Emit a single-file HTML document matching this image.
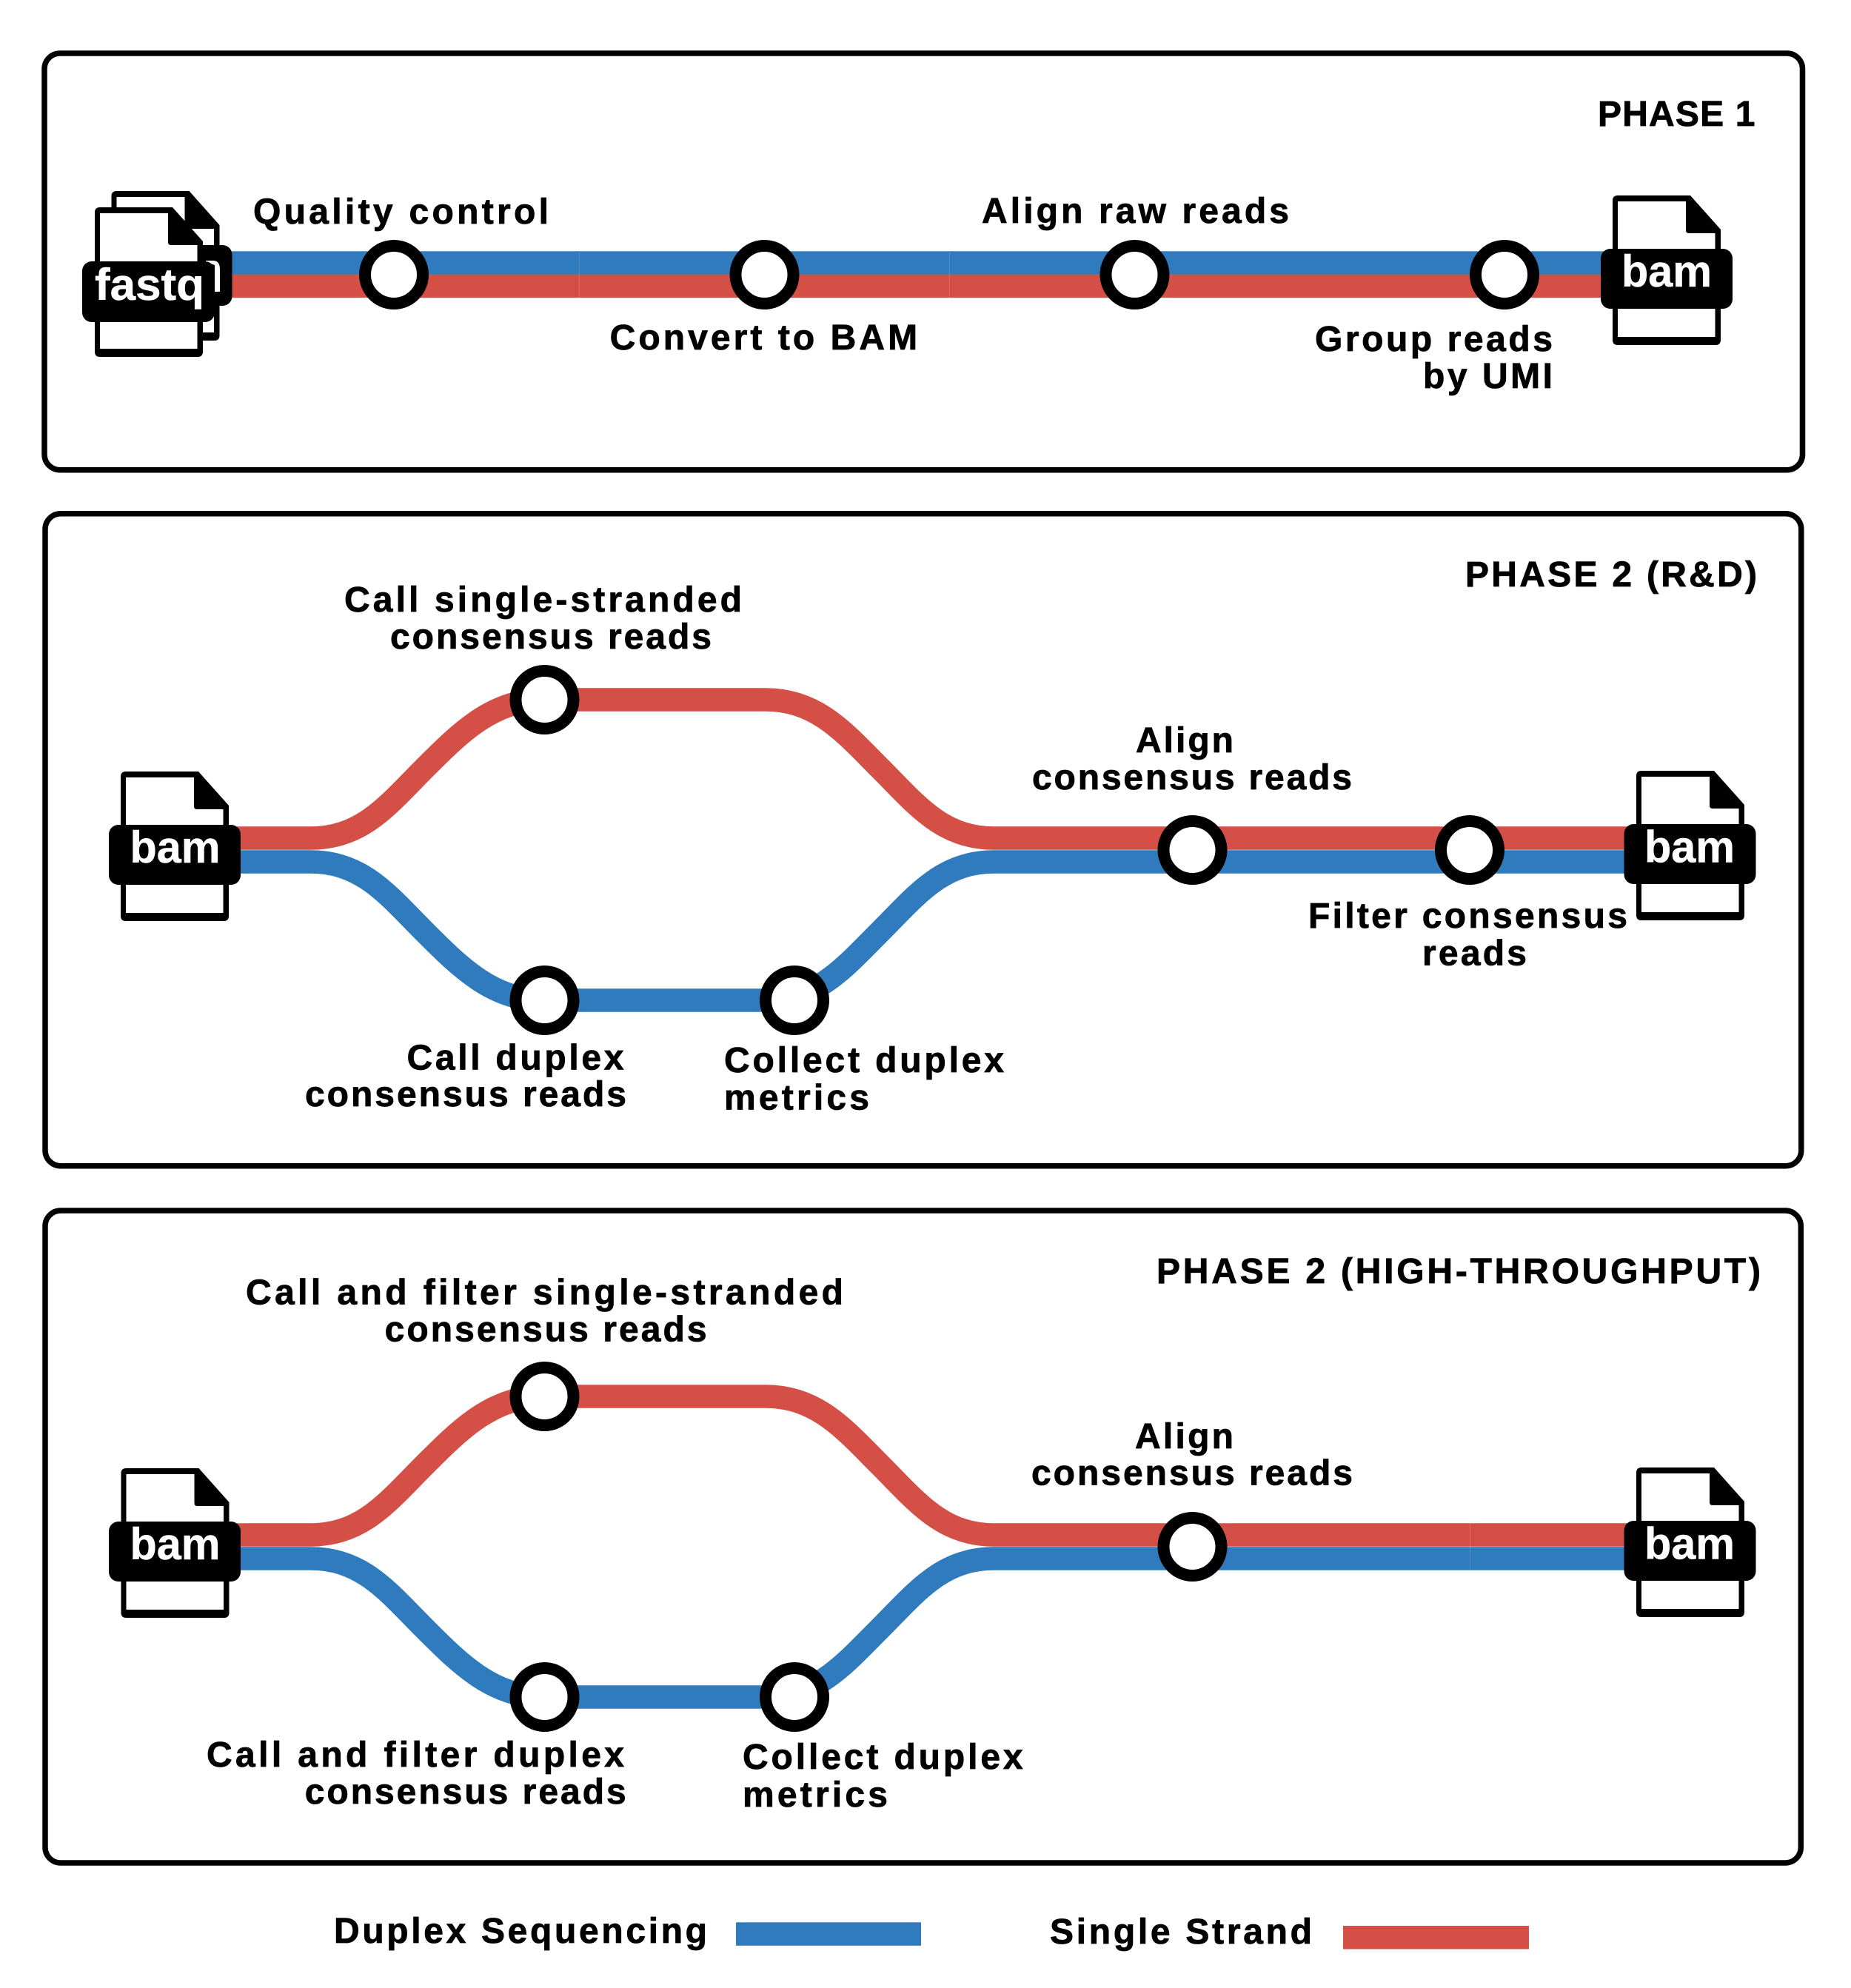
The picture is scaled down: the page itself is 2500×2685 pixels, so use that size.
<!DOCTYPE html>
<html lang="en">
<head>
<meta charset="utf-8">
<title>Duplex sequencing pipeline</title>
<style>
html,body{margin:0;padding:0;background:#fff}
svg{display:block}
text{font-family:"Liberation Sans",sans-serif;font-weight:700;font-size:48px;fill:#000;stroke:#000;stroke-width:.8}
text.w{fill:#fff;stroke:#fff;stroke-width:.5;font-size:60px}
.red{fill:none;stroke:#d44f46;stroke-width:31.5}
.blue{fill:none;stroke:#2f7bbd;stroke-width:31.5}
.box{fill:none;stroke:#000;stroke-width:7.5}
.st{fill:#fff;stroke:#000;stroke-width:16}
</style>
</head>
<body>
<svg xmlns="http://www.w3.org/2000/svg" width="2500" height="2685" viewBox="0 0 2500 2685">
<defs>
<g id="doc">
<path d="M7 0H105L146 46V195Q146 202 139 202H7Q0 202 0 195V7Q0 0 7 0Z" fill="#000"/>
<path d="M7 8H99V47Q99 51 103 51H138.5V191H7Z" fill="#fff"/>
</g>
</defs>
<rect width="2500" height="2685" fill="#fff"/>

<rect class="box" x="60" y="72" width="2374.5" height="562.7" rx="21"/>
<rect class="box" x="61" y="693.7" width="2371.8" height="881" rx="21"/>
<rect class="box" x="61" y="1635" width="2371.3" height="881" rx="21"/>

<!-- PHASE 1 -->
<rect x="300" y="339.3" width="1880" height="31.6" fill="#2f7bbd"/>
<rect x="300" y="370.7" width="1880" height="31.5" fill="#d44f46"/>
<rect x="782" y="339.3" width="1" height="62.9" fill="#fff" opacity=".15"/>
<rect x="1282" y="339.3" width="1" height="62.9" fill="#fff" opacity=".15"/>
<circle class="st" cx="532" cy="371" r="39"/>
<circle class="st" cx="1032.5" cy="371" r="39"/>
<circle class="st" cx="1532.5" cy="371" r="39"/>
<circle class="st" cx="2032" cy="371" r="39"/>

<use href="#doc" x="150.5" y="258"/>
<rect x="135.5" y="331" width="178" height="82" rx="13" fill="#000"/>
<path d="M278 352H288Q297 352 297 364V394H290V358L278 354Z" fill="#fff"/>
<use href="#doc" x="128" y="280"/>
<rect x="111" y="353" width="179" height="82" rx="13" fill="#000"/>
<text class="w" x="128" y="405" textLength="148" lengthAdjust="spacingAndGlyphs">fastq</text>

<use href="#doc" x="2178" y="264"/>
<rect x="2162" y="336" width="178" height="81" rx="13" fill="#000"/>
<text class="w" x="2190" y="387" textLength="122" lengthAdjust="spacingAndGlyphs">bam</text>

<text x="2158" y="170" textLength="212.5" lengthAdjust="spacing">PHASE 1</text>
<text x="342" y="302" textLength="399" lengthAdjust="spacing">Quality control</text>
<text x="823.6" y="472" textLength="415.5" lengthAdjust="spacing">Convert to BAM</text>
<text x="1326" y="301" textLength="415" lengthAdjust="spacing">Align raw reads</text>
<text x="1776" y="474" textLength="321" lengthAdjust="spacing">Group reads</text>
<text x="1922" y="524" textLength="175" lengthAdjust="spacing">by UMI</text>

<!-- PHASE 2 R&D -->
<path class="red" d="M320 1132H420C490 1132 525 1086 573 1038C621 990 665 945 735 945H1034C1104 945 1141 990 1189 1038C1237 1086 1272 1132 1342 1132H2200"/>
<path class="blue" d="M320 1164H420C490 1164 525 1210 573 1258C621 1306 665 1351 735 1351H1034C1104 1351 1141 1306 1189 1258C1237 1210 1272 1164 1342 1164H2200"/>
<circle class="st" cx="735.5" cy="945" r="39"/>
<circle class="st" cx="735.5" cy="1351" r="39"/>
<circle class="st" cx="1073" cy="1351" r="39"/>
<circle class="st" cx="1610.5" cy="1148" r="39"/>
<circle class="st" cx="1985" cy="1148" r="39"/>

<use href="#doc" x="163" y="1042"/>
<rect x="147" y="1114" width="178" height="81" rx="13" fill="#000"/>
<text class="w" x="175.5" y="1165" textLength="122" lengthAdjust="spacingAndGlyphs">bam</text>
<use href="#doc" x="2210" y="1041"/>
<rect x="2193.5" y="1113" width="178" height="81" rx="13" fill="#000"/>
<text class="w" x="2221" y="1164.5" textLength="122" lengthAdjust="spacingAndGlyphs">bam</text>

<text x="1979" y="792" textLength="394" lengthAdjust="spacing">PHASE 2 (R&amp;D)</text>
<text x="465" y="826" textLength="537" lengthAdjust="spacing">Call single-stranded</text>
<text x="527" y="876" textLength="434" lengthAdjust="spacing">consensus reads</text>
<text x="549.5" y="1444.5" textLength="293" lengthAdjust="spacing">Call duplex</text>
<text x="412" y="1494" textLength="434" lengthAdjust="spacing">consensus reads</text>
<text x="978" y="1448" textLength="378" lengthAdjust="spacing">Collect duplex</text>
<text x="978" y="1498.5" textLength="196" lengthAdjust="spacing">metrics</text>
<text x="1534" y="1016" textLength="132" lengthAdjust="spacing">Align</text>
<text x="1394" y="1066" textLength="432" lengthAdjust="spacing">consensus reads</text>
<text x="1767" y="1253" textLength="431" lengthAdjust="spacing">Filter consensus</text>
<text x="1921" y="1303.5" textLength="141" lengthAdjust="spacing">reads</text>

<!-- PHASE 2 HIGH-THROUGHPUT -->
<g transform="translate(0 941)">
<path class="red" d="M320 1132H420C490 1132 525 1086 573 1038C621 990 665 945 735 945H1034C1104 945 1141 990 1189 1038C1237 1086 1272 1132 1342 1132H2200"/>
<path class="blue" d="M320 1164H420C490 1164 525 1210 573 1258C621 1306 665 1351 735 1351H1034C1104 1351 1141 1306 1189 1258C1237 1210 1272 1164 1342 1164H2200"/>
<rect x="1985" y="1116" width="1" height="63" fill="#fff" opacity=".15"/>
<circle class="st" cx="735.5" cy="945" r="39"/>
<circle class="st" cx="735.5" cy="1351" r="39"/>
<circle class="st" cx="1073" cy="1351" r="39"/>
<circle class="st" cx="1610.5" cy="1148" r="39"/>
<use href="#doc" x="163.5" y="1042"/>
<rect x="147" y="1114" width="178" height="81" rx="13" fill="#000"/>
<text class="w" x="175.5" y="1165" textLength="122" lengthAdjust="spacingAndGlyphs">bam</text>
<use href="#doc" x="2210" y="1041"/>
<rect x="2193.5" y="1113" width="178" height="81" rx="13" fill="#000"/>
<text class="w" x="2221" y="1164.5" textLength="122" lengthAdjust="spacingAndGlyphs">bam</text>
</g>

<text x="1562" y="1733" textLength="816" lengthAdjust="spacing">PHASE 2 (HIGH-THROUGHPUT)</text>
<text x="332" y="1761.6" textLength="807" lengthAdjust="spacing">Call and filter single-stranded</text>
<text x="519.6" y="1811.6" textLength="435" lengthAdjust="spacing">consensus reads</text>
<text x="279" y="2386" textLength="564" lengthAdjust="spacing">Call and filter duplex</text>
<text x="411.7" y="2436" textLength="434" lengthAdjust="spacing">consensus reads</text>
<text x="1003" y="2389" textLength="378.6" lengthAdjust="spacing">Collect duplex</text>
<text x="1003" y="2440" textLength="196" lengthAdjust="spacing">metrics</text>
<text x="1533" y="1956" textLength="133" lengthAdjust="spacing">Align</text>
<text x="1393" y="2005.6" textLength="434" lengthAdjust="spacing">consensus reads</text>

<!-- LEGEND -->
<text x="451" y="2624" textLength="504" lengthAdjust="spacing">Duplex Sequencing</text>
<rect x="994" y="2596.3" width="250" height="31.5" fill="#2f7bbd"/>
<text x="1418" y="2625" textLength="354" lengthAdjust="spacing">Single Strand</text>
<rect x="1814" y="2601" width="251" height="31.5" fill="#d44f46"/>
</svg>
</body>
</html>
